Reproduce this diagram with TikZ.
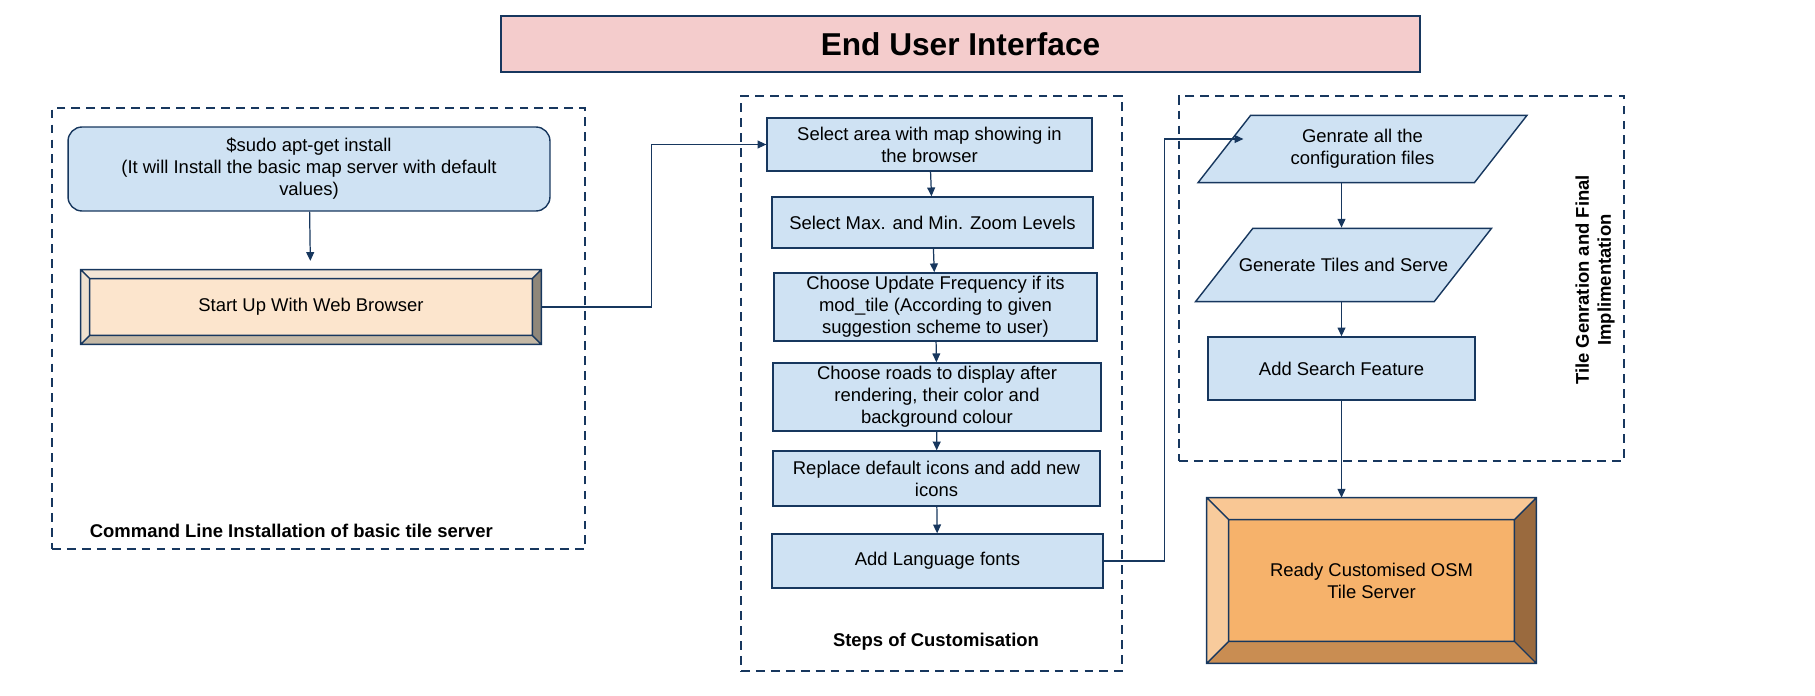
\documentclass[tikz,border=0pt]{standalone}
\usepackage{fontspec}
\setmainfont{Liberation Sans}
\usetikzlibrary{shapes.geometric,arrows.meta}

\definecolor{edge}{HTML}{17375E}
\definecolor{stepfill}{HTML}{CFE2F3}
\definecolor{titlefill}{HTML}{F4CCCC}
\definecolor{peach}{HTML}{FCE5CD}
\definecolor{peachtop}{HTML}{F3E6D6}
\definecolor{peachleft}{HTML}{EFE1CF}
\definecolor{peachright}{HTML}{8F877A}
\definecolor{peachbottom}{HTML}{C4B8A5}
\definecolor{osmfill}{HTML}{F6B26B}
\definecolor{osmtop}{HTML}{F9C794}
\definecolor{osmleft}{HTML}{F8CB9C}
\definecolor{osmright}{HTML}{9A6A3E}
\definecolor{osmbottom}{HTML}{C98D52}

% bevelled frame round a node: node, inset, top, right, bottom, left
\newcommand{\bevelframe}[6]{%
  \coordinate (#1-a) at ([shift={(#2,#2)}]#1.north west);
  \coordinate (#1-b) at ([shift={(-#2,#2)}]#1.north east);
  \coordinate (#1-c) at ([shift={(-#2,-#2)}]#1.south east);
  \coordinate (#1-d) at ([shift={(#2,-#2)}]#1.south west);
  \fill[#3] (#1.north west) -- (#1.north east) -- (#1-b) -- (#1-a) -- cycle;
  \fill[#4] (#1.north east) -- (#1.south east) -- (#1-c) -- (#1-b) -- cycle;
  \fill[#5] (#1.south east) -- (#1.south west) -- (#1-d) -- (#1-c) -- cycle;
  \fill[#6] (#1.south west) -- (#1.north west) -- (#1-a) -- (#1-d) -- cycle;
  \draw[edge, line width=0.8pt] (#1.north west) rectangle (#1.south east)
    (#1-a) rectangle (#1-c)
    (#1.north west) -- (#1-a) (#1.north east) -- (#1-b)
    (#1.south east) -- (#1-c) (#1.south west) -- (#1-d);
}

\begin{document}
\begin{tikzpicture}[x=0.02cm, y=-0.02cm,
  every node/.style = {font=\fontsize{10.5}{12.5}\selectfont,
    align=center, inner sep=2pt},
  titlebox/.style = {rectangle, draw=edge, line width=0.9pt, fill=titlefill,
    font=\fontsize{18}{21}\selectfont\bfseries},
  groupbox/.style = {rectangle, draw=edge, line width=0.8pt,
    dash pattern=on 5pt off 3.5pt},
  grouplabel/.style = {font=\fontsize{10.5}{12.5}\selectfont\bfseries},
  stepbox/.style = {rectangle, draw=edge, line width=0.8pt, fill=stepfill},
  databox/.style = {trapezium, trapezium left angle=52,
    trapezium right angle=128, trapezium stretches body,
    draw=edge, line width=0.8pt, fill=stepfill},
  arrow/.style = {draw=edge, line width=0.7pt,
    -{Triangle[length=5pt,width=4.5pt]}}]

  \useasboundingbox (0,0) rectangle (1815,696);

  \node[titlebox, minimum width=18.38cm, minimum height=1.12cm] (title)
    at (960.5,44) {End User Interface};

  \node[groupbox, minimum width=10.66cm, minimum height=8.82cm] (install)
    at (318.5,328.5) {};
  \node[groupbox, minimum width=7.62cm, minimum height=11.5cm] (custom)
    at (931.5,383.5) {};
  \node[groupbox, minimum width=8.9cm, minimum height=7.3cm] (tilegen)
    at (1401.5,278.5) {};

  \node[grouplabel, anchor=west] (installlabel) at (86,531)
    {Command Line Installation of basic tile server};
  \node[grouplabel] (customlabel) at (936,642) {Steps of Customisation};
  \node[grouplabel, rotate=90] (tilegenlabel) at (1595,280)
    {Tile Genration and Final\\Implimentation};

  \node[stepbox, rounded corners=0.28cm, minimum width=9.64cm,
    minimum height=1.68cm] (sudo) at (309,169)
    {\$sudo apt-get install\\(It will Install the basic map server with default\\values)};
  \node[fill=peach, minimum width=9.2cm, minimum height=1.48cm] (start)
    at (311,307) {Start Up With Web Browser};
  \bevelframe{start}{9}{peachtop}{peachright}{peachbottom}{peachleft}

  \node[stepbox, minimum width=6.5cm, minimum height=1.06cm] (s1)
    at (929.5,144.5) {Select area with map showing in\\the browser};
  \node[stepbox, minimum width=6.42cm, minimum height=1.02cm] (s2)
    at (932.5,222.5) {Select Max. and Min. Zoom Levels};
  \node[stepbox, minimum width=6.46cm, minimum height=1.32cm] (s3)
    at (935.5,307) {Choose Update Frequency if its\\mod\_tile (According to given\\suggestion scheme to user)};
  \node[stepbox, minimum width=6.56cm, minimum height=1.36cm] (s4)
    at (937,397) {Choose roads to display after\\rendering, their color and\\background colour};
  \node[stepbox, minimum width=6.54cm, minimum height=1.1cm] (s5)
    at (936.5,478.5) {Replace default icons and add new\\icons};
  \node[stepbox, minimum width=6.62cm, minimum height=1.08cm] (s6)
    at (937.5,561) {Add Language fonts};

  \node[databox, inner ysep=8pt, minimum width=6.58cm] (genconf)
    at (1362.5,149) {Genrate all the\\configuration files};
  \node[databox, inner ysep=17pt, inner xsep=-8pt] (gentiles)
    at (1343.5,265) {Generate Tiles and Serve};
  \node[stepbox, minimum width=5.34cm, minimum height=1.26cm] (search)
    at (1341.5,368.5) {Add Search Feature};
  \node[fill=osmfill, minimum width=6.58cm, minimum height=3.3cm] (ready)
    at (1371.5,580.5) {Ready Customised OSM\\Tile Server};
  \bevelframe{ready}{22}{osmtop}{osmright}{osmbottom}{osmleft}

  \draw[arrow, shorten >=5pt] (sudo) -- (start);
  \draw[arrow] (start.east) -- ++(110,0) |- (s1.west);
  \foreach \a/\b in {s1/s2, s2/s3, s3/s4, s4/s5, s5/s6}
    \draw[arrow] (\a) -- (\b);
  \draw[arrow] (s6.east) -- ++(61,0) |- ([xshift=0.4cm,yshift=0.2cm]genconf.west);
  \draw[arrow] (genconf.south -| search) -- (gentiles.north -| search);
  \draw[arrow] (gentiles.south -| search) -- (search.north);
  \draw[arrow] (search.south) -- (search.south |- ready.north);
\end{tikzpicture}
\end{document}
